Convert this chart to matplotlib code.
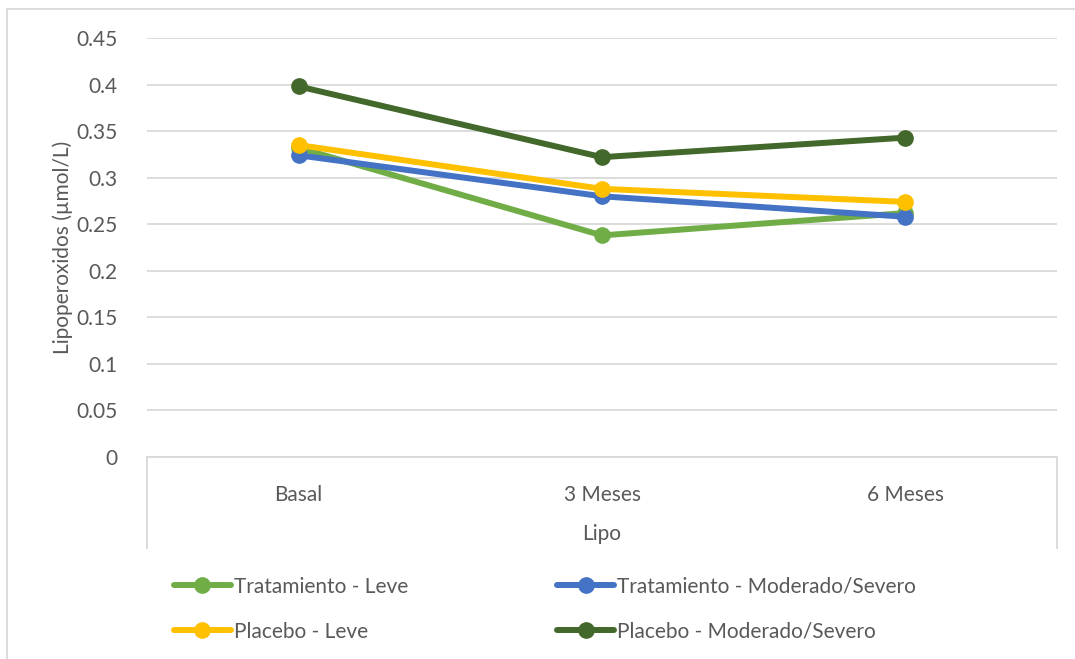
import matplotlib
matplotlib.use("Agg")
import matplotlib.pyplot as plt
from matplotlib.lines import Line2D

plt.rcParams['font.family'] = ['Lato', 'DejaVu Sans']

categories = ["Basal", "3 Meses", "6 Meses"]
series_names = ["Tratamiento - Leve", "Tratamiento - Moderado/Severo",
                "Placebo - Leve", "Placebo - Moderado/Severo"]
trat_leve = [0.332, 0.238, 0.262]
trat_mod = [0.324, 0.280, 0.258]
plac_leve = [0.335, 0.288, 0.274]
plac_mod = [0.398, 0.322, 0.343]
yticks = [0, 0.05, 0.1, 0.15, 0.2, 0.25, 0.3, 0.35, 0.4, 0.45]
ytick_labels = ["0", "0.05", "0.1", "0.15", "0.2", "0.25", "0.3", "0.35", "0.4", "0.45"]

colors = ["#70AD47", "#4472C4", "#FFC000", "#43682B"]
text_color = "#595959"
grid_color = "#D9D9D9"
fs = 15

W, H = 1075, 659
fig = plt.figure(figsize=(W / 100, H / 100), dpi=100)
ax = fig.add_axes([147 / W, 1 - 457 / H, (1057 - 147) / W, (457 - 38) / H])

x = list(range(len(categories)))
for vals, name, c in zip([trat_leve, trat_mod, plac_leve, plac_mod], series_names, colors):
    ax.plot(x, vals, color=c, lw=4.3, marker="o", ms=11, label=name,
            solid_capstyle="round", solid_joinstyle="round")

ax.set_xlim(-0.5, len(categories) - 0.5)
ax.set_ylim(0, 0.45)
ax.set_yticks(yticks)
ax.set_yticklabels(ytick_labels)
ax.set_xticks(x)
ax.set_xticklabels(categories)
ax.tick_params(axis="both", length=0, labelsize=fs, colors=text_color)
ax.tick_params(axis="y", pad=21)
ax.tick_params(axis="x", pad=20)
ax.grid(axis="y", color=grid_color, lw=1.3)
ax.set_axisbelow(True)
for s in ["top", "left", "right"]:
    ax.spines[s].set_visible(False)
ax.spines["bottom"].set_color(grid_color)
ax.spines["bottom"].set_linewidth(1.3)

# category axis frame edges extending below the plot
for xe in [147, 1057]:
    fig.add_artist(Line2D([xe / W, xe / W], [1 - 457 / H, 1 - 548 / H],
                          color=grid_color, lw=1.3))

ax.set_ylabel("Lipoperoxidos (µmol/L)", fontsize=fs, color=text_color)
ax.yaxis.set_label_coords((73 - 147) / (1057 - 147), 0.5)
fig.text(602 / W, 1 - 534 / H, "Lipo", ha="center", va="center",
         fontsize=fs, color=text_color)

# outer chart frame
fig.add_artist(Line2D([7 / W, 7 / W, 1.0], [0.0, 1 - 9 / H, 1 - 9 / H],
                      color=grid_color, lw=1.3))

handles, labels = ax.get_legend_handles_labels()
order = [0, 2, 1, 3]
leg = fig.legend([handles[i] for i in order], [labels[i] for i in order],
                 ncol=2, loc="upper left", bbox_to_anchor=(155 / W, 1 - 558 / H),
                 frameon=False, fontsize=fs, labelcolor=text_color,
                 handlelength=2.74, handletextpad=0.15, columnspacing=7.15,
                 labelspacing=1.2)

fig.savefig("out.png", dpi=100, facecolor="white")
